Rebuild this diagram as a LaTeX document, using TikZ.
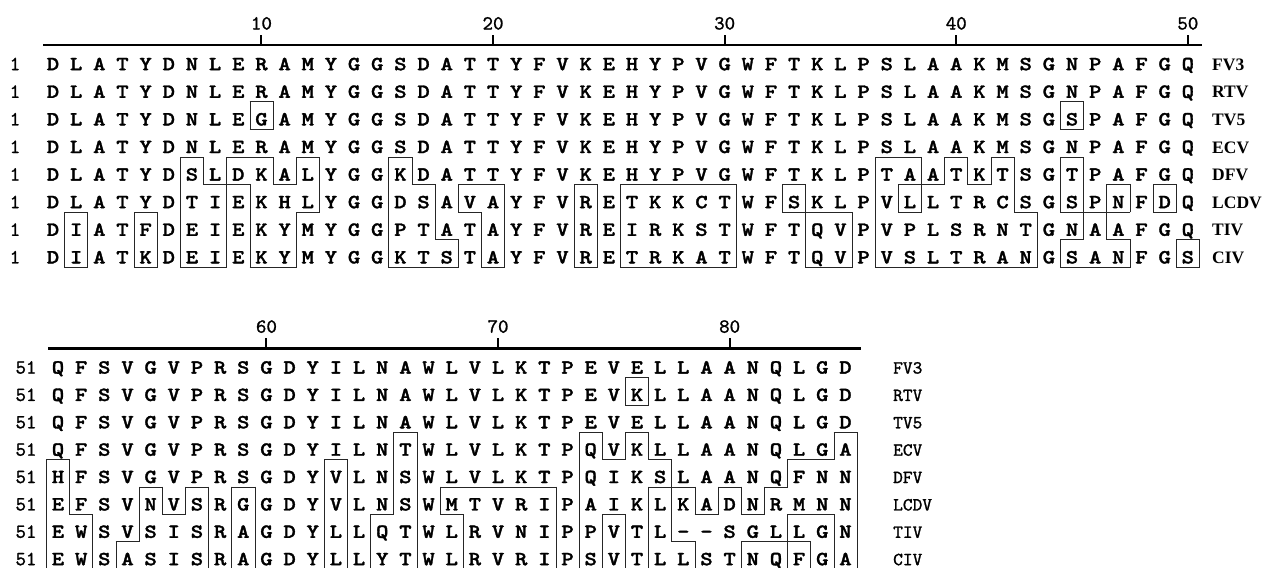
\documentclass[tikz,border=0pt]{standalone}
\usepackage{fontspec}
\newfontfamily\resfont{lmmonolt10-bold.otf}[FakeStretch=1.18,FakeBold=1.6]
\newfontfamily\numfont{lmmono10-regular.otf}[FakeBold=1.2]
\newfontfamily\namefont{Liberation Serif}
\tikzset{
  res/.style={font={\fontsize{20}{21}\resfont}, anchor=base, inner sep=0pt},
  rownum/.style={font={\fontsize{20}{21}\numfont}, anchor=base, inner sep=0pt},
  ticknum/.style={font={\fontsize{20}{21}\numfont}, anchor=base, inner sep=0pt},
  nameA/.style={font={\fontsize{17.5}{18}\namefont\bfseries}, anchor=base west, inner sep=0pt},
  nameB/.style={font={\fontsize{18.5}{19}\numfont}, anchor=base west, inner sep=0pt},
  boxline/.style={line width=0.7pt, black!85, line cap=rect},
  ruler/.style={line width=2.7pt},
  tickmark/.style={line width=2pt},
}
\newcommand\alnres[4]{\node[res] (#1) at (#2,#3) {#4};}
\newcommand\alnseg[4]{\draw[boxline] (#1,#2) -- (#3,#4);}

\ExplSyntaxOn
\fp_new:N \l_aln_x_fp
\fp_new:N \l_aln_y_fp
\fp_new:N \l_aln_l_fp
\fp_new:N \l_aln_r_fp
\fp_new:N \l_aln_t_fp
\fp_new:N \l_aln_b_fp
\bool_new:N \l_aln_d_bool

\str_const:cn { c_aln_a_1_str } { DLATYDNLERAMYGGSDATTYFVKEHYPVGWFTKLPSLAAKMSGNPAFGQ }
\str_const:cn { c_aln_a_2_str } { DLATYDNLERAMYGGSDATTYFVKEHYPVGWFTKLPSLAAKMSGNPAFGQ }
\str_const:cn { c_aln_a_3_str } { DLATYDNLEGAMYGGSDATTYFVKEHYPVGWFTKLPSLAAKMSGSPAFGQ }
\str_const:cn { c_aln_a_4_str } { DLATYDNLERAMYGGSDATTYFVKEHYPVGWFTKLPSLAAKMSGNPAFGQ }
\str_const:cn { c_aln_a_5_str } { DLATYDSLDKALYGGKDATTYFVKEHYPVGWFTKLPTAATKTSGTPAFGQ }
\str_const:cn { c_aln_a_6_str } { DLATYDTIEKHLYGGDSAVAYFVRETKKCTWFSKLPVLLTRCSGSPNFDQ }
\str_const:cn { c_aln_a_7_str } { DIATFDEIEKYMYGGPTATAYFVREIRKSTWFTQVPVPLSRNTGNAAFGQ }
\str_const:cn { c_aln_a_8_str } { DIATKDEIEKYMYGGKTSTAYFVRETRKATWFTQVPVSLTRANGSANFGS }

\str_const:cn { c_aln_b_1_str } { QFSVGVPRSGDYILNAWLVLKTPEVELLAANQLGD }
\str_const:cn { c_aln_b_2_str } { QFSVGVPRSGDYILNAWLVLKTPEVKLLAANQLGD }
\str_const:cn { c_aln_b_3_str } { QFSVGVPRSGDYILNAWLVLKTPEVELLAANQLGD }
\str_const:cn { c_aln_b_4_str } { QFSVGVPRSGDYILNTWLVLKTPQVKLLAANQLGA }
\str_const:cn { c_aln_b_5_str } { HFSVGVPRSGDYVLNSWLVLKTPQIKSLAANQFNN }
\str_const:cn { c_aln_b_6_str } { EFSVNVSRGGDYVLNSWMTVRIPAIKLKADNRMNN }
\str_const:cn { c_aln_b_7_str } { EWSVSISRAGDYLLQTWLRVNIPPVTL--SGLLGN }
\str_const:cn { c_aln_b_8_str } { EWSASISRAGDYLLYTWLRVRIPSVTLLSTNQFGA }

\cs_new:Npn \aln_ch:nnn #1#2#3 { \str_item:cn { c_aln_#1_#2_str } {#3} }

\cs_new_protected:Npn \aln_test:nnn #1#2#3
  {
    \bool_set_false:N \l_aln_d_bool
    \int_compare:nNnT {#2} > {0}
      {
        \int_compare:nNnT {#2} < {9}
          {
            \str_if_eq:eeF { \aln_ch:nnn {#1}{#2}{#3} } { \aln_ch:nnn {#1}{1}{#3} }
              { \bool_set_true:N \l_aln_d_bool }
          }
      }
  }
\cs_generate_variant:Nn \aln_test:nnn { nee }

\cs_new_protected:Npn \aln_seg:NNNN #1#2#3#4
  {
    \use:e { \exp_not:N \alnseg { \fp_use:N #1 } { \fp_use:N #2 } { \fp_use:N #3 } { \fp_use:N #4 } }
  }

\cs_new_protected:Npn \aln_cell:nnnnnn #1#2#3#4#5#6
  {
    \fp_set:Nn \l_aln_x_fp { #4 + 23.16 * (#3 - 1) }
    \fp_set:Nn \l_aln_y_fp { #5 + #6 * (#2 - 1) }
    \use:e
      {
        \exp_not:N \alnres {#1-#2-#3} { \fp_use:N \l_aln_x_fp }
          { \fp_eval:n { \l_aln_y_fp + 6.9 } } { \aln_ch:nnn {#1}{#2}{#3} }
      }
    \aln_test:nnn {#1}{#2}{#3}
    \bool_if:NT \l_aln_d_bool
      {
        \fp_set:Nn \l_aln_l_fp { \l_aln_x_fp - 11.58 }
        \fp_set:Nn \l_aln_r_fp { \l_aln_x_fp + 11.58 }
        \fp_set:Nn \l_aln_t_fp { \l_aln_y_fp - 16.7 }
        \fp_set:Nn \l_aln_b_fp { \l_aln_y_fp + 10.8 }
        \aln_test:nee {#1} { \int_eval:n {#2 - 1} } {#3}
        \bool_if:NF \l_aln_d_bool
          { \aln_seg:NNNN \l_aln_l_fp \l_aln_t_fp \l_aln_r_fp \l_aln_t_fp }
        \aln_test:nee {#1} { \int_eval:n {#2 + 1} } {#3}
        \bool_if:NF \l_aln_d_bool
          { \aln_seg:NNNN \l_aln_l_fp \l_aln_b_fp \l_aln_r_fp \l_aln_b_fp }
        \aln_test:nee {#1} {#2} { \int_eval:n {#3 - 1} }
        \bool_if:NF \l_aln_d_bool
          { \aln_seg:NNNN \l_aln_l_fp \l_aln_t_fp \l_aln_l_fp \l_aln_b_fp }
        \aln_test:nee {#1} {#2} { \int_eval:n {#3 + 1} }
        \bool_if:NF \l_aln_d_bool
          { \aln_seg:NNNN \l_aln_r_fp \l_aln_t_fp \l_aln_r_fp \l_aln_b_fp }
      }
  }

\cs_new_protected:Npn \aln_block:nnnnn #1#2#3#4#5
  {
    \int_step_inline:nnn {1} {8}
      {
        \int_step_inline:nnn {1} {#2}
          { \aln_cell:nnnnnn {#1} {##1} {####1} {#3} {#4} {#5} }
      }
  }
\NewDocumentCommand \alnblock { m m m m m } { \aln_block:nnnnn {#1}{#2}{#3}{#4}{#5} }
\ExplSyntaxOff

\begin{document}
\begin{tikzpicture}[x=1pt,y=-1pt]
\useasboundingbox (0,0) rectangle (1262,568);
\clip (0,0) rectangle (1262,568);

% ---- top block: ruler, ticks, numbers
\draw[ruler] (43,45) -- (1202,45);
\foreach \k/\lab in {0/10,1/20,2/30,3/40,4/50}{
  \pgfmathsetmacro\tx{53+23.16*(9+10*\k)}
  \draw[tickmark] (\tx,45) -- (\tx,35);
  \node[ticknum] (ta\lab) at (\tx,29.5) {\lab};
}
\alnblock{a}{50}{53}{63.3}{27.6}
\foreach \r/\nm in {1/FV3,2/RTV,3/TV5,4/ECV,5/DFV,6/LCDV,7/TIV,8/CIV}{
  \pgfmathsetmacro\ty{63.3+27.6*(\r-1)+6.9}
  \node[rownum] (na\r) at (15,\ty) {1};
  \node[nameA] (ma\r) at (1212,\ty) {\nm};
}

% ---- bottom block
\draw[ruler] (48,348.3) -- (860.7,348.3);
\foreach \k/\lab in {0/60,1/70,2/80}{
  \pgfmathsetmacro\tx{58+23.16*(9+10*\k)}
  \draw[tickmark] (\tx,348.3) -- (\tx,338.3);
  \node[ticknum] (tb\lab) at (\tx,332.7) {\lab};
}
\alnblock{b}{35}{58}{366.7}{27.37}
\foreach \r/\nm in {1/FV3,2/RTV,3/TV5,4/ECV,5/DFV,6/LCDV,7/TIV,8/CIV}{
  \pgfmathsetmacro\ty{366.7+27.37*(\r-1)+6.9}
  \node[rownum] (nb\r) at (26,\ty) {51};
  \node[nameB] (mb\r) at (893,\ty) {\nm};
}
\end{tikzpicture}
\end{document}
